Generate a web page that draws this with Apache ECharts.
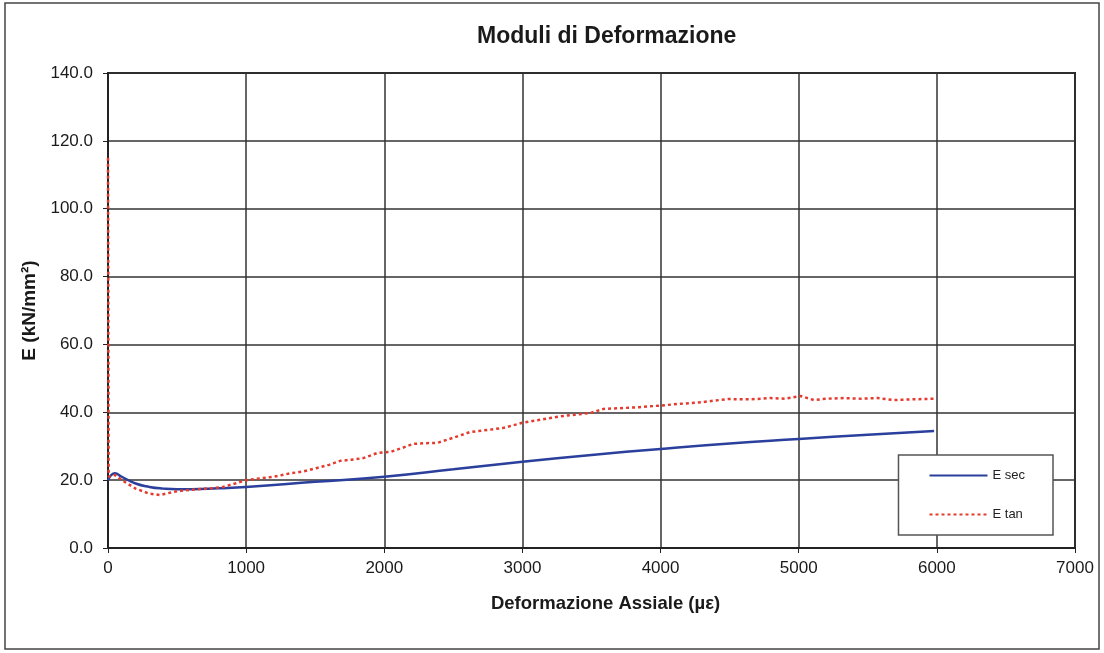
<!DOCTYPE html>
<html>
<head>
<meta charset="utf-8">
<script src="https://cdn.jsdelivr.net/npm/echarts@6/dist/echarts.min.js"></script>
<style>
  html, body { margin: 0; padding: 0; background: #fff; }
  #main { width: 1104px; height: 653px; }
</style>
</head>
<body>
<div id="main"></div>
<script>
// deformazione assiale (µε) e moduli (kN/mm²)
var secStrain = [0, 50, 100, 200, 300, 400, 500, 600, 800, 1000, 1500, 2000, 2500, 3000, 3500, 4000, 4500, 5000, 5500, 5980];
var secModulus = [20, 22, 21, 19, 18, 17.5, 17.3, 17.3, 17.6, 18, 19.5, 21, 23.2, 25.4, 27.4, 29.2, 30.8, 32.1, 33.4, 34.5];

var tanStrain = [0, 5, 50, 100, 200, 300, 377, 470, 550, 667, 750, 833, 920, 1000, 1100, 1200, 1319, 1420, 1514, 1600, 1681, 1760, 1848, 1950, 2043, 2130, 2210, 2300, 2384, 2500, 2623, 2750, 2862, 3000, 3130, 3254, 3380, 3493, 3587, 3700, 3850, 4000, 4145, 4300, 4486, 4650, 4797, 4900, 5014, 5109, 5200, 5326, 5450, 5572, 5688, 5800, 5978];
var tanModulus = [115, 21, 21.5, 20, 17.5, 16, 15.6, 16.5, 17, 17.4, 17.6, 18, 19, 20, 20.5, 21, 22, 22.6, 23.6, 24.5, 25.7, 26, 26.5, 28, 28.3, 29.5, 30.7, 30.9, 31, 32.5, 34.2, 34.8, 35.4, 36.9, 37.8, 38.7, 39.3, 39.8, 41, 41.2, 41.5, 42, 42.5, 43, 43.9, 43.8, 44.2, 44, 44.8, 43.6, 44, 44.2, 44, 44.2, 43.6, 43.8, 44];

var seriesNames = ['E sec', 'E tan'];

function pairs(xs, ys) {
    return xs.map(function (x, i) { return [x, ys[i]]; });
}

var chart = echarts.init(document.getElementById('main'));
var font = 'Liberation Sans, Arial, sans-serif';

var option = {
    backgroundColor: '#fff',
    animation: false,
    title: {
        text: 'Moduli di Deformazione',
        left: 472,
        top: 20,
        textStyle: { fontFamily: font, fontSize: 23, fontWeight: 'bold', color: '#1a1a1a' }
    },
    legend: {
        data: seriesNames,
        orient: 'vertical',
        right: 51,
        top: 455,
        padding: [14, 28, 14, 30],
        itemGap: 26,
        itemWidth: 58,
        itemHeight: 10,
        itemStyle: { opacity: 0 },
        backgroundColor: '#fff',
        borderColor: '#555',
        borderWidth: 1.5,
        textStyle: { fontFamily: font, fontSize: 13, color: '#222' }
    },
    grid: {
        left: 108,
        right: 29,
        top: 73,
        bottom: 105,
        show: true,
        borderColor: '#222',
        borderWidth: 2,
        backgroundColor: '#fff'
    },
    xAxis: {
        type: 'value',
        min: 0,
        max: 7000,
        interval: 1000,
        name: 'Deformazione Assiale (µε)',
        nameLocation: 'middle',
        nameGap: 46,
        nameTextStyle: { fontFamily: font, fontSize: 18.5, fontWeight: 'bold', color: '#1a1a1a', padding: [0, 0, 0, 28] },
        axisLine: { lineStyle: { color: '#222', width: 2 } },
        axisTick: { show: true, length: 5, lineStyle: { color: '#222' } },
        axisLabel: {
            fontFamily: font, fontSize: 17, color: '#1a1a1a', margin: 12,
            formatter: function (v) { return String(v); }
        },
        splitLine: { lineStyle: { color: '#333', width: 1.5 } }
    },
    yAxis: {
        type: 'value',
        min: 0,
        max: 140,
        interval: 20,
        name: 'E (kN/mm²)',
        nameLocation: 'middle',
        nameGap: 68,
        nameTextStyle: { fontFamily: font, fontSize: 19, fontWeight: 'bold', color: '#1a1a1a' },
        axisLine: { show: true, lineStyle: { color: '#222', width: 2 } },
        axisTick: { show: true, length: 5, lineStyle: { color: '#222' } },
        axisLabel: {
            fontFamily: font, fontSize: 17, color: '#1a1a1a', margin: 15,
            formatter: function (v) { return v.toFixed(1); }
        },
        splitLine: { lineStyle: { color: '#333', width: 1.5 } }
    },
    graphic: [{
        type: 'rect',
        shape: { x: 5, y: 3, width: 1094, height: 646 },
        style: { fill: 'none', stroke: '#444', lineWidth: 1.5 },
        silent: true,
        z: -1
    }],
    series: [
        {
            name: seriesNames[0],
            type: 'line',
            data: pairs(secStrain, secModulus),
            smooth: true,
            symbol: 'none',
            color: '#2b3f9c',
            lineStyle: { color: '#2b3f9c', width: 2.5 }
        },
        {
            name: seriesNames[1],
            type: 'line',
            data: pairs(tanStrain, tanModulus),
            symbol: 'none',
            color: '#e53b2e',
            lineStyle: { color: '#e53b2e', width: 2.5, type: [3, 3] }
        }
    ]
};

chart.setOption(option);
</script>
</body>
</html>
